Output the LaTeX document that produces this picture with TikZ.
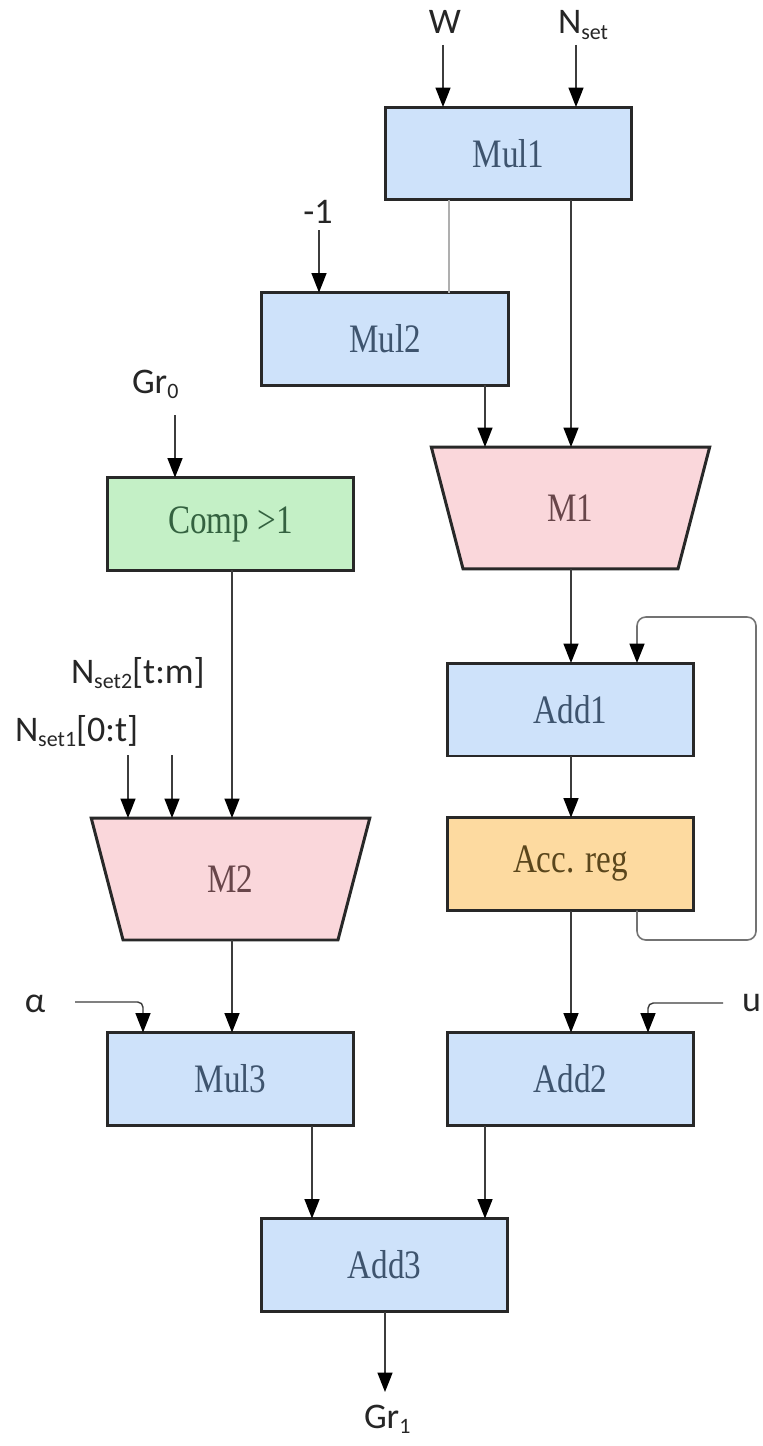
\documentclass[tikz,border=0pt]{standalone}
\usepackage{fontspec}
\usepackage{graphicx}
\setmainfont{Liberation Serif}
\newfontfamily\labfont{Carlito}
\usetikzlibrary{shapes.geometric,arrows.meta,calc}

\definecolor{boxline}{RGB}{40,40,40}
\definecolor{wireC}{RGB}{60,60,60}
\definecolor{lightwire}{RGB}{175,175,175}
\definecolor{loopC}{RGB}{115,115,115}
\definecolor{blueF}{RGB}{206,226,250}
\definecolor{blueT}{RGB}{62,84,110}
\definecolor{greenF}{RGB}{196,240,198}
\definecolor{greenT}{RGB}{52,98,64}
\definecolor{pinkF}{RGB}{250,215,219}
\definecolor{pinkT}{RGB}{104,70,74}
\definecolor{orangeF}{RGB}{253,218,160}
\definecolor{orangeT}{RGB}{90,70,28}

% box caption: slightly condensed serif
\newcommand\bt[1]{\scalebox{0.82}[1]{#1}}
\newcommand\boxfont{\fontsize{23}{27}\selectfont}
% lowered small text for indices
\newcommand\ix[1]{\raisebox{-0.3ex}{\fontsize{12.5}{14}\selectfont #1}}

\begin{document}
\begin{tikzpicture}[x=0.02cm,y=-0.02cm,
  box/.style={draw=boxline, line width=1.7pt, minimum width=4.94cm, minimum height=1.86cm,
    inner sep=0pt, outer sep=0pt, font=\boxfont},
  blk/.style={box, fill=blueF, text=blueT},
  trap/.style={trapezium, shape border rotate=180, trapezium stretches=true,
    trapezium angle=75.7, minimum width=5.58cm, minimum height=2.44cm,
    draw=boxline, line width=1.7pt, fill=pinkF, text=pinkT,
    inner sep=0pt, outer sep=0pt, font=\boxfont},
  lab/.style={inner sep=0pt, outer sep=0pt, font=\labfont\fontsize{20.5}{24}\selectfont, text=black!85},
  arr/.style={draw=wireC, line width=0.8pt, -{Triangle[width=8.5pt,length=11pt,color=black]}},
  plain/.style={draw=lightwire, line width=0.7pt},
  loop/.style={draw=loopC, line width=0.9pt, rounded corners=5pt,
    -{Triangle[width=8.5pt,length=11pt,color=black]}}
]
\fill[white] (0,0) rectangle (762,1446);
\useasboundingbox (0,0) rectangle (762,1446);

% functional blocks
\node[blk] (mul1) at (508.5,153.5) {\bt{Mul1}};
\node[blk] (mul2) at (385,339) {\bt{Mul2}};
\node[box, fill=greenF, text=greenT] (comp) at (230.5,524) {\bt{Comp >1}};
\node[trap] (m1) at (570.5,508) {\bt{M1}};
\node[blk] (add1) at (570.5,709.5) {\bt{Add1}};
\node[box, fill=orangeF, text=orangeT] (acc) at (570.5,864) {\bt{Acc. reg}};
\node[trap] (m2) at (230.5,879) {\bt{M2}};
\node[blk] (mul3) at (230.5,1079) {\bt{Mul3}};
\node[blk] (add2) at (570.5,1079) {\bt{Add2}};
\node[blk] (add3) at (384.5,1265) {\bt{Add3}};

% signal names
\node[lab, anchor=base] (w) at (445,34) {W};
\node[lab, anchor=base west] (nset) at (558,34) {N\ix{set}};
\node[lab, anchor=base] (neg) at (318,223) {-1};
\node[lab, anchor=base west] (gr0) at (132,393) {Gr\ix{0}};
\node[lab, anchor=base west] (nset2) at (71,683) {N\ix{set2}[t:m]};
\node[lab, anchor=base west] (nset1) at (15,741) {N\ix{set1}[0:t]};
\node[lab, anchor=base west] (alpha) at (25,1012) {α};
\node[lab, anchor=base west] (u) at (742,1011) {u};
\node[lab, anchor=base west] (gr1) at (364,1428) {Gr\ix{1}};

% wire columns and free ends
\coordinate (c128) at (128,755);
\coordinate (c172) at (172,755);
\coordinate (c232) at (232,0);
\coordinate (c312) at (312,0);
\coordinate (c449) at (449,0);
\coordinate (c485) at (485,0);
\coordinate (c571) at (571,0);
\coordinate (c637) at (637,0);
\coordinate (wIn) at (443,45);
\coordinate (nIn) at (576,45);
\coordinate (negIn) at (319,230);
\coordinate (grIn) at (175,415);
\coordinate (aIn) at (75,1002);
\coordinate (aCorner) at (143,1002);
\coordinate (uIn) at (723,1003);
\coordinate (uCorner) at (648,1003);
\coordinate (gOut) at (385,1392);
\coordinate (fbR) at (756,940);
\coordinate (fbT) at (756,617);

% inputs
\draw[arr] (wIn) -- (wIn |- mul1.north);
\draw[arr] (nIn) -- (nIn |- mul1.north);
\draw[arr] (negIn) -- (negIn |- mul2.north);
\draw[arr] (grIn) -- (grIn |- comp.north);
\draw[arr] (c128) -- (c128 |- m2.north);
\draw[arr] (c172) -- (c172 |- m2.north);
\draw[arr, rounded corners=3pt] (aIn) -- (aCorner) -- (aCorner |- mul3.north);
\draw[arr, rounded corners=3pt] (uIn) -- (uCorner) -- (uCorner |- add2.north);

% datapath
\draw[plain] (mul1.south -| c449) -- (mul2.north -| c449);
\draw[arr] (mul1.south -| c571) -- (m1.north -| c571);
\draw[arr] (mul2.south -| c485) -- (m1.north -| c485);
\draw[arr] (m1.south -| c571) -- (add1.north -| c571);
\draw[arr] (add1.south -| c571) -- (acc.north -| c571);
\draw[arr] (acc.south -| c571) -- (add2.north -| c571);
\draw[arr] (comp.south -| c232) -- (m2.north -| c232);
\draw[arr] (m2.south -| c232) -- (mul3.north -| c232);
\draw[arr] (mul3.south -| c312) -- (add3.north -| c312);
\draw[arr] (add2.south -| c485) -- (add3.north -| c485);
\draw[arr] (add3.south -| gOut) -- (gOut);

% accumulator feedback
\draw[loop] (acc.south -| c637) |- (fbR) -- (fbT) -| (add1.north -| c637);
\end{tikzpicture}
\end{document}
